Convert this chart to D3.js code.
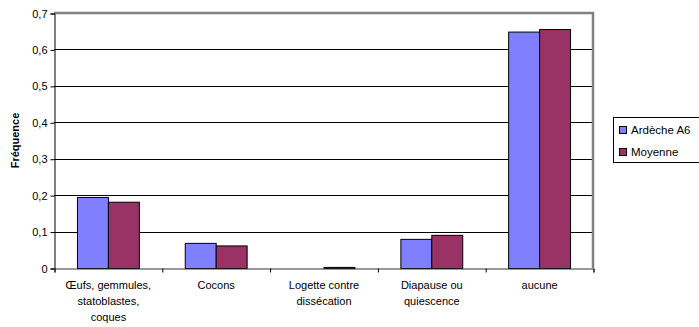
<!DOCTYPE html>
<html><head><meta charset="utf-8">
<script src="https://cdn.jsdelivr.net/npm/d3@7"></script>
<style>body{margin:0;background:#fff}svg{display:block;font-family:"Liberation Sans",Arial,sans-serif}</style>
</head><body>
<svg id="c" width="699" height="327"></svg>
<script>
const categories = [["Œufs, gemmules,","statoblastes,","coques"],["Cocons"],["Logette contre","dissécation"],["Diapause ou","quiescence"],["aucune"]];
const seriesNames = ["Ardèche A6","Moyenne"];
const ardeche = [0.195, 0.069, 0, 0.080, 0.649];
const moyenne = [0.182, 0.062, 0.003, 0.091, 0.656];
const yTicks = [0,0.1,0.2,0.3,0.4,0.5,0.6,0.7];
const tickLabels = ["0","0,1","0,2","0,3","0,4","0,5","0,6","0,7"];
const colors = ["#8080FF","#993366"];

const svg = d3.select("#c");
const L=54, R=593, T=13, B=268;
const idx = d3.range(categories.length);
const x0 = d3.scaleBand().domain(idx).range([L,R]).paddingInner(0.426).paddingOuter(0.213);
const x1 = d3.scaleBand().domain([0,1]).range([0,x0.bandwidth()]);
const y = d3.scaleLinear().domain([0,0.7]).range([B,T]);

svg.append("g").selectAll("line").data(yTicks.slice(1,-1)).join("line")
  .attr("x1",L).attr("x2",R).attr("y1",d=>Math.round(y(d))+0.5).attr("y2",d=>Math.round(y(d))+0.5)
  .attr("stroke","#000").attr("stroke-width",1);
svg.append("path").attr("d",`M${L},${T}H${R}V${B}`).attr("fill","none").attr("stroke","#808080").attr("stroke-width",2.5);

const series=[ardeche,moyenne];
const g = svg.append("g");
series.forEach((vals,s)=>{
  g.selectAll(null).data(idx).join("rect")
    .attr("x",i=>x0(i)+x1(s)+0.5)
    .attr("y",i=>y(vals[i])+0.5)
    .attr("width",x1.bandwidth())
    .attr("height",i=>Math.max(0,B-y(vals[i])))
    .attr("fill",colors[s]).attr("stroke","#000").attr("stroke-width",1);
});

const yAxis = d3.axisLeft(y).tickValues(yTicks).tickFormat((d,i)=>tickLabels[i]).tickSize(4).tickPadding(3);
const ya = svg.append("g").attr("transform",`translate(${L+0.5},0.5)`).call(yAxis);
ya.select(".domain").attr("stroke","#000");
ya.selectAll("text").attr("font-size",11).attr("fill","#000").attr("font-family","Liberation Sans, Arial, sans-serif");

const xb = d3.scaleLinear().domain([0,categories.length]).range([L,R]);
const xa = svg.append("g").attr("transform",`translate(0.5,${B+0.5})`)
  .call(d3.axisBottom(xb).ticks(categories.length).tickFormat("").tickSize(4).tickSizeOuter(4));
xa.select(".domain").attr("stroke","#333");
xa.selectAll("line").attr("stroke","#000");

const lab = svg.append("g").attr("font-size",11).attr("text-anchor","middle").attr("fill","#000");
idx.forEach(i=>{
  const cx = x0(i)+x0.bandwidth()/2+0.5;
  const t = lab.append("text").attr("x",cx).attr("y",289);
  categories[i].forEach((line,k)=>t.append("tspan").attr("x",cx).attr("dy",k?16:0).text(line));
});

svg.append("text").attr("transform",`translate(19,${(T+B)/2}) rotate(-90)`)
  .attr("text-anchor","middle").attr("font-size",11).attr("font-weight","bold").text("Fréquence");

const lg = svg.append("g");
lg.append("rect").attr("x",613.5).attr("y",117.5).attr("width",100).attr("height",45).attr("fill","#fff").attr("stroke","#000");
seriesNames.forEach((n,i)=>{
  const cy = 130 + i*22;
  lg.append("rect").attr("x",619.5).attr("y",cy-3.5).attr("width",7).attr("height",7).attr("fill",colors[i]).attr("stroke","#000");
  lg.append("text").attr("x",631).attr("y",cy+4).attr("font-size",11.5).text(n);
});
</script>
</body></html>
